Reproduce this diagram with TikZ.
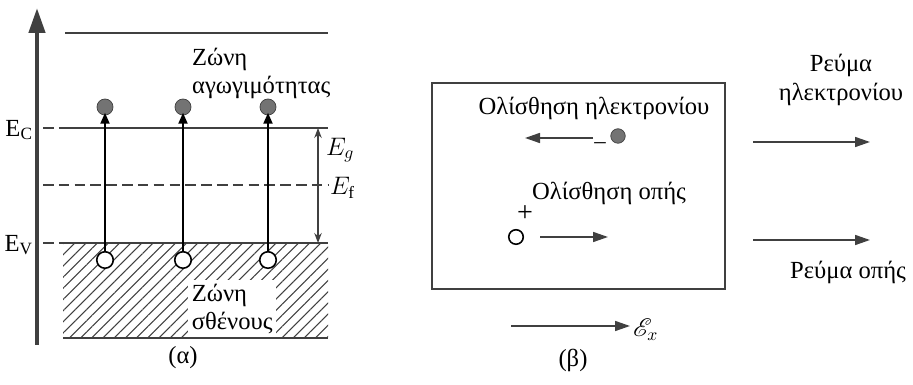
\documentclass[tikz,border=0pt]{standalone}
\usepackage{fontspec}
\setmainfont{Liberation Serif}
\usepackage{mathrsfs}
\usetikzlibrary{arrows.meta,positioning,patterns.meta}
\definecolor{grammi}{gray}{0.25}
\definecolor{gemisma}{gray}{0.45}
\tikzset{
  zoni/.style={draw=grammi,line width=1.2pt},
  diak/.style={draw=grammi,line width=1.2pt,dash pattern=on 6pt off 3pt},
  ilektr/.style={circle,draw=grammi,fill=gemisma,inner sep=0pt,minimum size=3.2mm},
  opi/.style={circle,draw=black,fill=white,line width=0.9pt,inner sep=0pt,minimum size=3.3mm},
  metab/.style={-{Triangle[length=2.2mm,width=1.8mm]},draw=black,line width=1.1pt,shorten >=-1.5pt},
  velos/.style={-{Triangle[length=3mm,width=2mm]},draw=grammi,line width=0.9pt},
  keim/.style={font=\fontsize{14}{16}\selectfont,align=left,inner sep=1pt},
  epip/.style={font=\fontsize{13}{15}\selectfont,inner sep=1pt},
}
\begin{document}
\begin{tikzpicture}[x=0.2mm,y=-0.2mm]
  \useasboundingbox (0,0) rectangle (913,385);
  % (a) energy bands
  \fill[pattern={Lines[angle=45,distance=4.5pt,line width=0.6pt]},pattern color=grammi]
    (63,243) rectangle (328,338);
  \coordinate (axon0) at (37,345); \coordinate (axon1) at (37,8);
  \draw[grammi,line width=2.5pt,-{Triangle[length=5mm,width=3.2mm]}] (axon0) -- (axon1);
  \draw[zoni] (65,33) -- (328,33);
  \coordinate (ec0) at (43,128); \coordinate (ec1) at (65,128); \coordinate (ec2) at (328,128);
  \coordinate (ev0) at (43,243); \coordinate (ev1) at (63,243); \coordinate (ev2) at (328,243);
  \draw[diak] (ec0) -- (ec1); \draw[zoni] (ec1) -- (ec2);
  \draw[diak] (ev0) -- (ev1); \draw[zoni] (ev1) -- (ev2);
  \draw[diak] (43,185) -- (328,185);
  \draw[zoni] (63,338) -- (328,338);
  \node[keim,anchor=east] (ec) at (35,130) {E\textsubscript{C}};
  \node[keim,anchor=east] (ev) at (35,245) {E\textsubscript{V}};
  \coordinate (eg0) at (318,128); \coordinate (eg1) at (318,243);
  \draw[grammi,line width=0.7pt,{Stealth[length=2mm]}-{Stealth[length=2mm]}] (eg0) -- (eg1);
  \node[keim,anchor=west] (eg) at (324,150) {$E_g$};
  \node[keim,anchor=west] (ef) at (328,188) {$E_{\mathrm{f}}$};
  \node[keim,anchor=north west] (agog) at (190,46) {Ζώνη\\αγωγιμότητας};
  \node[keim,anchor=north west,fill=white,inner sep=2pt] (sthen) at (188,280) {Ζώνη\\σθένους};
  \foreach \i/\x in {1/105,2/183,3/268} {
    \node[ilektr] (e\i) at (\x,107) {};
    \node[opi] (o\i) at (\x,260) {};
    \draw[metab] (o\i) -- (e\i);
  }
  \node[keim] (alfa) at (183,358) {(α)};
  % (b) drift
  \draw[grammi,line width=1.4pt] (432,83) rectangle (725,289);
  \node[keim] (olil) at (594,108) {Ολίσθηση ηλεκτρονίου};
  \node[ilektr,minimum size=2.9mm] (el) at (618,136) {};
  \node[epip] (plin) at (600,146) {–};
  \coordinate (el0) at (593,138); \coordinate (el1) at (525,138);
  \draw[velos] (el0) -- (el1);
  \node[keim] (olio) at (609,193) {Ολίσθηση οπής};
  \node[keim,font=\fontsize{16}{18}\selectfont] (syn) at (525,214) {+};
  \node[opi,minimum size=2.9mm] (op) at (516,237) {};
  \coordinate (op0) at (540,237); \coordinate (op1) at (608,237);
  \draw[velos] (op0) -- (op1);
  \coordinate (ex0) at (511,326); \coordinate (ex1) at (630,326);
  \draw[velos] (ex0) -- (ex1);
  \node[keim,anchor=west] (ex) at (631,330) {$\mathscr{E}_x$};
  \node[keim] (beta) at (573,360) {(β)};
  \node[keim,align=center] (revil) at (841,80) {Ρεύμα\\ηλεκτρονίου};
  \coordinate (ri0) at (753,142); \coordinate (ri1) at (870,142);
  \draw[velos] (ri0) -- (ri1);
  \coordinate (ro0) at (753,240); \coordinate (ro1) at (870,240);
  \draw[velos] (ro0) -- (ro1);
  \node[keim] (revop) at (848,272) {Ρεύμα οπής};
\end{tikzpicture}
\end{document}
